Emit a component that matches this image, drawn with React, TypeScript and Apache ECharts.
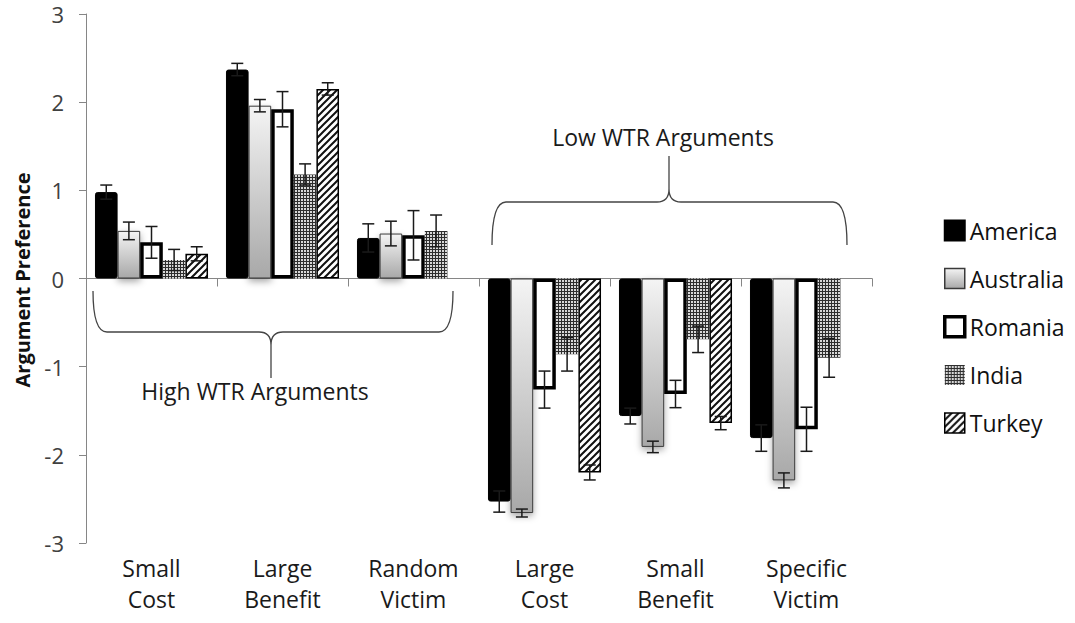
import React, { useEffect, useRef } from "react";
import * as echarts from "echarts";

const categories = ["Small\nCost", "Large\nBenefit", "Random\nVictim", "Large\nCost", "Small\nBenefit", "Specific\nVictim"];
const countries = ["America", "Australia", "Romania", "India", "Turkey"];

const america = [0.98, 2.37, 0.46, -2.53, -1.56, -1.81];
const americaErr = [0.08, 0.07, 0.16, 0.12, 0.09, 0.15];
const australia = [0.54, 1.96, 0.51, -2.66, -1.91, -2.29];
const australiaErr = [0.1, 0.07, 0.14, 0.045, 0.065, 0.085];
const romania = [0.41, 1.92, 0.49, -1.26, -1.31, -1.71];
const romaniaErr = [0.18, 0.2, 0.28, 0.21, 0.155, 0.25];
const india = [0.21, 1.18, 0.54, -0.86, -0.69, -0.9];
const indiaErr = [0.12, 0.12, 0.18, 0.19, 0.15, 0.22];
const turkey = [0.28, 2.15, null, -2.2, -1.64, null];
const turkeyErr = [0.08, 0.07, null, 0.085, 0.075, null];

const yTicks = { min: -3, max: 3, interval: 1 };
const groupLabels = ["High WTR Arguments", "Low WTR Arguments"];

const FONT = "'Open Sans', sans-serif";
const CAT_GAP = 0.137;

function makeIndiaPattern() {
  const c = document.createElement("canvas");
  c.width = 3;
  c.height = 3;
  const ctx = c.getContext("2d")!;
  ctx.fillStyle = "#2e2e2e";
  ctx.fillRect(0, 0, 3, 3);
  ctx.fillStyle = "#d8d8d8";
  ctx.fillRect(1, 1, 2, 2);
  return c;
}

function makeTurkeyPattern() {
  const c = document.createElement("canvas");
  c.width = 7;
  c.height = 7;
  const ctx = c.getContext("2d")!;
  ctx.fillStyle = "#ffffff";
  ctx.fillRect(0, 0, 7, 7);
  ctx.strokeStyle = "#111";
  ctx.lineWidth = 2;
  ctx.beginPath();
  ctx.moveTo(-1, 8);
  ctx.lineTo(8, -1);
  ctx.moveTo(-4.5, 4.5);
  ctx.lineTo(4.5, -4.5);
  ctx.moveTo(2.5, 11.5);
  ctx.lineTo(11.5, 2.5);
  ctx.stroke();
  return c;
}

let shapesRegistered = false;
function registerBraces() {
  if (shapesRegistered) return;
  shapesRegistered = true;
  echarts.graphic.registerShape(
    "braceHigh",
    echarts.graphic.extendPath(
      "M93,291 Q93,332 107,332 L259,332 Q271,332 271,345 L271,378 M271,345 Q271,332 283,332 L439,332 Q453,332 453,291",
      {}
    )
  );
  echarts.graphic.registerShape(
    "braceLow",
    echarts.graphic.extendPath(
      "M492,245 Q492,202 506,202 L657,202 Q669,202 669,189 L669,156 M669,189 Q669,202 681,202 L833,202 Q847,202 847,245",
      {}
    )
  );
}

export default function App() {
  const ref = useRef<HTMLDivElement>(null);

  useEffect(() => {
    if (!ref.current) return;
    registerBraces();
    const chart = echarts.init(ref.current, null, { renderer: "svg" });

    const indiaPattern = { image: makeIndiaPattern(), repeat: "repeat", imageWidth: 3, imageHeight: 3 } as any;
    const turkeyPattern = { image: makeTurkeyPattern(), repeat: "repeat", imageWidth: 7, imageHeight: 7 } as any;

    const values = [america, australia, romania, india, turkey];
    const errors = [americaErr, australiaErr, romaniaErr, indiaErr, turkeyErr];

    const styles: any[] = [
      { color: "#000", borderColor: "#000", borderWidth: 1, borderRadius: 2 },
      {
        color: new echarts.graphic.LinearGradient(0, 0, 0, 1, [
          { offset: 0, color: "#f4f4f4" },
          { offset: 1, color: "#a8a8a8" },
        ]),
        borderColor: "#3a3a3a",
        borderWidth: 1,
        shadowColor: "rgba(0,0,0,0.35)",
        shadowBlur: 7,
        shadowOffsetY: 3,
      },
      { color: "#fff", borderColor: "#000", borderWidth: 3.5 },
      { color: indiaPattern, borderWidth: 0 },
      { color: turkeyPattern, borderColor: "#000", borderWidth: 1.5 },
    ];

    const barSeries = countries.map((name, i) => ({
      type: "bar",
      name,
      xAxisIndex: 0,
      data: values[i],
      barGap: "0%",
      barCategoryGap: CAT_GAP * 100 + "%",
      itemStyle: styles[i],
      z: 2,
    }));

    const errSeries = countries.map((name, i) => ({
      type: "custom",
      name: name + " error",
      xAxisIndex: 0,
      z: 5,
      encode: { x: 0, y: 1 },
      data: values[i]
        .map((v, k) => (v == null ? null : [k, v, errors[i][k]]))
        .filter((d) => d != null),
      renderItem: (params: any, api: any) => {
        const cat = api.value(0);
        const v = api.value(1);
        const e = api.value(2);
        const bandW = api.size([1, 0])[0];
        const barW = (bandW * (1 - CAT_GAP)) / 5;
        const cx = api.coord([cat, 0])[0] + (i - 2) * barW;
        const yTop = api.coord([cat, v + e])[1];
        const yBot = api.coord([cat, v - e])[1];
        const hw = 6;
        const st = { stroke: "#1a1a1a", lineWidth: 1.5 };
        return {
          type: "group",
          children: [
            { type: "line", shape: { x1: cx, y1: yTop, x2: cx, y2: yBot }, style: st },
            { type: "line", shape: { x1: cx - hw, y1: yTop, x2: cx + hw, y2: yTop }, style: st },
            { type: "line", shape: { x1: cx - hw, y1: yBot, x2: cx + hw, y2: yBot }, style: st },
          ],
        };
      },
    }));

    const axisGray = "#868686";

    chart.setOption({
      animation: false,
      backgroundColor: "#fff",
      textStyle: { fontFamily: FONT },
      grid: { left: 86, top: 14, width: 786, height: 529, containLabel: false },
      legend: {
        orient: "vertical",
        left: 943,
        top: 219,
        padding: 0,
        icon: "rect",
        itemWidth: 20,
        itemHeight: 20,
        itemGap: 25,
        textStyle: { fontFamily: FONT, fontSize: 23, color: "#111" },
        data: [
          { name: "America" },
          { name: "Australia", itemStyle: { borderWidth: 1.5, shadowBlur: 0, shadowOffsetY: 0 } },
          { name: "Romania", itemStyle: { borderWidth: 3.5 } },
          { name: "India" },
          { name: "Turkey", itemStyle: { borderWidth: 1.5 } },
        ],
      },
      xAxis: [
        {
          type: "category",
          data: categories,
          position: "bottom",
          axisLine: { show: true, onZero: true, lineStyle: { color: axisGray, width: 1 } },
          axisTick: { show: true, length: 8, lineStyle: { color: axisGray } },
          axisLabel: { show: false },
          splitLine: { show: false },
        },
        {
          type: "category",
          data: categories,
          position: "bottom",
          axisLine: { show: false, onZero: false },
          axisTick: { show: false },
          splitLine: { show: false },
          axisLabel: {
            show: true,
            interval: 0,
            margin: 9,
            fontFamily: FONT,
            fontSize: 23,
            lineHeight: 31,
            color: "#1a1a1a",
          },
        },
      ],
      yAxis: {
        type: "value",
        min: yTicks.min,
        max: yTicks.max,
        interval: yTicks.interval,
        axisLine: { show: true, lineStyle: { color: axisGray, width: 1 } },
        axisTick: { show: true, length: 7, lineStyle: { color: axisGray } },
        splitLine: { show: false },
        axisLabel: { fontFamily: FONT, fontSize: 22, color: "#404040", margin: 22 },
      },
      graphic: [
        {
          type: "text",
          x: 22,
          y: 280,
          rotation: Math.PI / 2,
          style: {
            text: "Argument Preference",
            fontFamily: FONT,
            fontSize: 20,
            fontWeight: "bold",
            fill: "#111",
            align: "center",
            verticalAlign: "middle",
          },
        },
        {
          type: "braceHigh",
          x: 0,
          y: 0,
          style: { stroke: "#444", lineWidth: 1.3, fill: "none" },
        },
        {
          type: "braceLow",
          x: 0,
          y: 0,
          style: { stroke: "#444", lineWidth: 1.3, fill: "none" },
        },
        {
          type: "text",
          x: 255,
          y: 391,
          style: {
            text: groupLabels[0],
            fontFamily: FONT,
            fontSize: 23,
            fill: "#1a1a1a",
            align: "center",
            verticalAlign: "middle",
          },
        },
        {
          type: "text",
          x: 663,
          y: 137,
          style: {
            text: groupLabels[1],
            fontFamily: FONT,
            fontSize: 23,
            fill: "#1a1a1a",
            align: "center",
            verticalAlign: "middle",
          },
        },
      ],
      series: [...barSeries, ...errSeries],
    });

    return () => chart.dispose();
  }, []);

  return (
    <div
      ref={ref}
      style={{ position: "fixed", left: 0, top: 0, width: 1075, height: 623, background: "#fff" }}
    />
  );
}
